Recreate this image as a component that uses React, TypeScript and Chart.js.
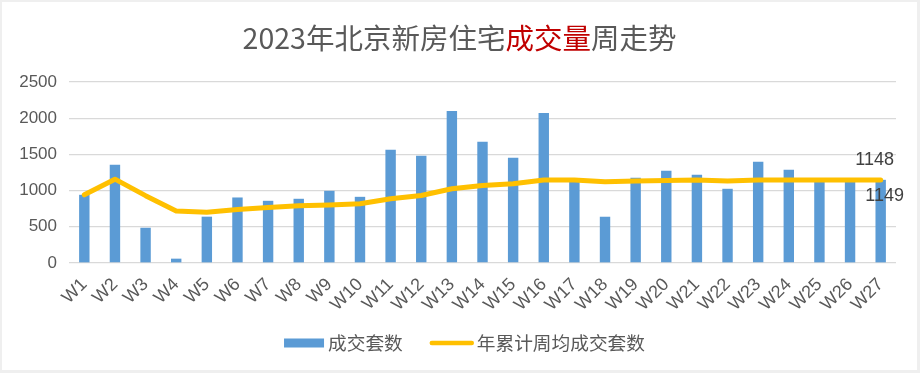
import React, { useEffect, useRef } from "react";
import { Chart, registerables } from "chart.js";

Chart.register(...registerables);

const weeks = [
  "W1", "W2", "W3", "W4", "W5", "W6", "W7", "W8", "W9", "W10",
  "W11", "W12", "W13", "W14", "W15", "W16", "W17", "W18", "W19", "W20",
  "W21", "W22", "W23", "W24", "W25", "W26", "W27",
];
const weeklyDeals = [
  942, 1356, 487, 60, 640, 905, 859, 887, 997, 914,
  1563, 1480, 2101, 1673, 1453, 2073, 1125, 639, 1177, 1273,
  1218, 1025, 1397, 1287, 1140, 1140, 1149,
];
const cumulativeAvg = [
  942, 1158, 930, 718, 702, 740, 765, 790, 800, 818,
  887, 933, 1025, 1071, 1094, 1145, 1145, 1121, 1132, 1138,
  1148, 1133, 1147, 1148, 1148, 1148, 1148,
];
const yTicks = [0, 500, 1000, 1500, 2000, 2500];
const seriesNames = ["成交套数", "年累计周均成交套数"];
const titleParts = ["2023年北京新房住宅", "成交量", "周走势"];
const lastLineLabel = "1148";
const lastBarLabel = "1149";

const GRAY = "#595959";
const RED = "#C00000";
const BLUE = "#5B9BD5";
const YELLOW = "#FFC000";
const CJK = "'Noto Sans CJK SC', 'Liberation Sans', sans-serif";
const NUM = "'Liberation Sans', 'Noto Sans CJK SC', sans-serif";

const overlayPlugin = {
  id: "overlay",
  afterDraw(chart: any) {
    const ctx = chart.ctx;
    ctx.save();
    // title with coloured middle part
    ctx.font = `28.5px ${CJK}`;
    ctx.textBaseline = "middle";
    ctx.textAlign = "left";
    const colors = [GRAY, RED, GRAY];
    const widths = titleParts.map((t) => ctx.measureText(t).width);
    const total = widths.reduce((a, b) => a + b, 0);
    let x = chart.width / 2 - total / 2;
    const ty = 36;
    titleParts.forEach((t, i) => {
      ctx.fillStyle = colors[i];
      ctx.fillText(t, x, ty);
      x += widths[i];
    });

    // legend
    ctx.font = `18.7px ${CJK}`;
    const w0 = ctx.measureText(seriesNames[0]).width;
    const w1 = ctx.measureText(seriesNames[1]).width;
    const boxW = 40;
    const lineW = 44;
    const legW = boxW + 4 + w0 + 27 + lineW + 3 + w1;
    let lx = chart.width / 2 + 5 - legW / 2;
    const ly = 341;
    ctx.fillStyle = BLUE;
    ctx.fillRect(lx, ly - 4.5, boxW, 9);
    lx += boxW + 4;
    ctx.fillStyle = GRAY;
    ctx.fillText(seriesNames[0], lx, ly);
    lx += w0 + 27;
    ctx.strokeStyle = YELLOW;
    ctx.lineWidth = 4.5;
    ctx.lineCap = "round";
    ctx.beginPath();
    ctx.moveTo(lx + 2, ly);
    ctx.lineTo(lx + lineW - 2, ly);
    ctx.stroke();
    lx += lineW + 3;
    ctx.fillStyle = GRAY;
    ctx.fillText(seriesNames[1], lx, ly);

    // end labels
    const barMeta = chart.getDatasetMeta(0);
    const lineMeta = chart.getDatasetMeta(1);
    const n = weeks.length - 1;
    const lp = lineMeta.data[n];
    const bp = barMeta.data[n];
    ctx.font = `18px ${NUM}`;
    ctx.fillStyle = "#404040";
    ctx.textAlign = "center";
    ctx.fillText(lastLineLabel, lp.x - 6, lp.y - 20);
    ctx.fillText(lastBarLabel, bp.x + 4, bp.y + 16);
    ctx.restore();
  },
};

export default function App() {
  const ref = useRef<HTMLCanvasElement | null>(null);

  useEffect(() => {
    document.body.style.margin = "0";
    const canvas = ref.current!;
    const chart = new Chart(canvas, {
      type: "bar",
      data: {
        labels: weeks,
        datasets: [
          {
            type: "bar",
            label: seriesNames[0],
            data: weeklyDeals,
            backgroundColor: BLUE,
            borderWidth: 0,
            barPercentage: 0.34,
            categoryPercentage: 1,
            order: 2,
          } as any,
          {
            type: "line",
            label: seriesNames[1],
            data: cumulativeAvg,
            borderColor: YELLOW,
            backgroundColor: YELLOW,
            borderWidth: 5,
            borderCapStyle: "round",
            borderJoinStyle: "round",
            pointRadius: 0,
            tension: 0,
            order: 1,
          } as any,
        ],
      },
      options: {
        animation: false,
        responsive: false,
        devicePixelRatio: 1,
        layout: { padding: { top: 80, right: 21, bottom: 46, left: 0 } },
        scales: {
          x: {
            grid: { display: false, drawTicks: false },
            border: { display: false },
            ticks: {
              color: GRAY,
              font: { size: 18, family: NUM },
              maxRotation: 45,
              minRotation: 45,
              padding: 11,
              autoSkip: false,
            },
            afterFit(scale: any) {
              scale.height = 61;
            },
          },
          y: {
            min: yTicks[0],
            max: yTicks[yTicks.length - 1],
            afterBuildTicks(scale: any) {
              scale.ticks = yTicks.map((v) => ({ value: v }));
            },
            grid: { color: "#D9D9D9", lineWidth: 1.3, drawTicks: false },
            border: { display: false },
            ticks: {
              color: GRAY,
              font: { size: 17, family: NUM },
              padding: 12,
              callback: (v: any) => String(v),
            },
            afterFit(scale: any) {
              scale.width = 67;
            },
          },
        },
        plugins: {
          title: { display: false },
          tooltip: { enabled: false },
          legend: { display: false },
        },
      },
      plugins: [overlayPlugin],
    });
    return () => chart.destroy();
  }, []);

  return (
    <div
      style={{
        width: 920,
        height: 373,
        boxSizing: "border-box",
        background: "#EFEFEF",
        padding: "2px 3px 3px 2px",
      }}
    >
      <canvas
        ref={ref}
        width={915}
        height={368}
        style={{ display: "block", background: "#FFFFFF" }}
      />
    </div>
  );
}
